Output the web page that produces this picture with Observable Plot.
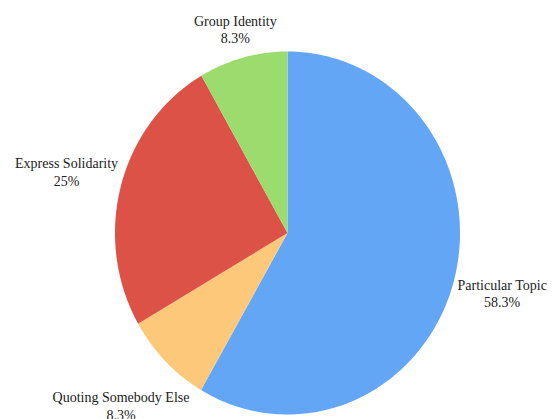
<!DOCTYPE html>
<html>
<head>
<meta charset="utf-8">
<script src="https://cdn.jsdelivr.net/npm/d3@7"></script>
<script src="https://cdn.jsdelivr.net/npm/@observablehq/plot@0.6"></script>
<style>
  html, body { margin: 0; padding: 0; background: #fff; }
  svg text { font-family: "Liberation Serif", "Times New Roman", "DejaVu Serif", serif; }
</style>
</head>
<body>
<div id="chart"></div>
<script>
// Data
const categories = ["Particular Topic", "Quoting Somebody Else", "Express Solidarity", "Group Identity"];
const values = [58.3, 8.3, 25, 8.3];
const valueLabels = ["58.3%", "8.3%", "25%", "8.3%"];
const colors = ["#64a6f6", "#fdc879", "#dc5246", "#9cdc6e"];

// Layout
const W = 553, H = 419;
const cx = 287, cy = 232.5, rx = 172.5, ry = 181.5;
const fontSize = 14, lineHeight = 1.25;
const fontStack = '"Liberation Serif", "Times New Roman", "DejaVu Serif", serif';

const pie = d3.pie().sort(null).value(d => d.value)(
  categories.map((c, i) => ({cat: c, value: values[i], label: valueLabels[i]}))
);

// Slice polygons in unit coordinates (angle clockwise from 12 o'clock)
const pts = [];
for (const s of pie) {
  const n = Math.max(2, Math.ceil((s.endAngle - s.startAngle) / (Math.PI / 180)));
  pts.push({cat: s.data.cat, x: 0, y: 0});
  for (let k = 0; k <= n; k++) {
    const a = s.startAngle + (s.endAngle - s.startAngle) * k / n;
    pts.push({cat: s.data.cat, x: Math.sin(a), y: Math.cos(a)});
  }
  pts.push({cat: s.data.cat, x: 0, y: 0});
}

// Label positions: just outside the edge, offset by the text box extent
const ctx = document.createElement("canvas").getContext("2d");
ctx.font = `${fontSize}px ${fontStack}`;
const gap = 2;
const labels = pie.map(s => {
  const a = (s.startAngle + s.endAngle) / 2;
  const sn = Math.sin(a), cs = Math.cos(a);
  const text = s.data.cat + "\n" + s.data.label;
  const w = Math.max(ctx.measureText(s.data.cat).width, ctx.measureText(s.data.label).width);
  const h = fontSize * lineHeight * 2;
  const d = gap + Math.abs(sn) * w / 2 + Math.abs(cs) * h / 2;
  return {
    x: sn + sn * d / rx,
    y: cs + cs * d / ry,
    text
  };
});

const chart = Plot.plot({
  width: W,
  height: H,
  margin: 0,
  x: {domain: [-1, 1], range: [cx - rx, cx + rx], axis: null},
  y: {domain: [-1, 1], range: [cy + ry, cy - ry], axis: null},
  color: {domain: categories, range: colors},
  style: {background: "#fff", overflow: "visible", fontFamily: fontStack},
  marks: [
    Plot.line(pts, {x: "x", y: "y", z: "cat", fill: "cat", stroke: "none", curve: "linear"}),
    Plot.text(labels, {
      x: "x", y: "y", text: "text",
      textAnchor: "middle", lineAnchor: "middle", lineHeight,
      fontSize, fontFamily: fontStack, fill: "#222"
    })
  ]
});
document.getElementById("chart").appendChild(chart);
</script>
</body>
</html>
